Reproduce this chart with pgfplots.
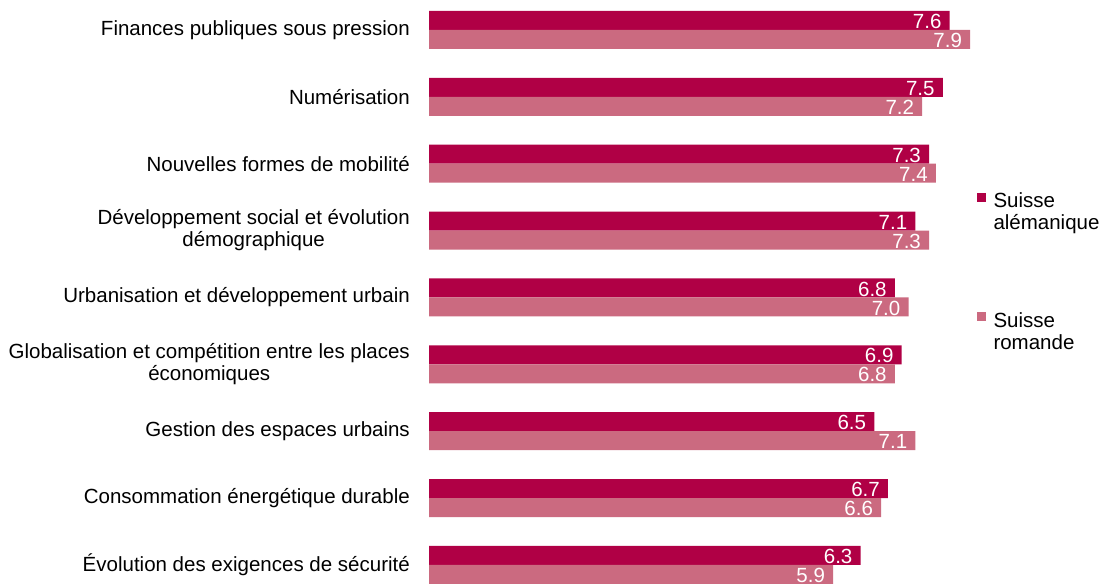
\documentclass[border=0pt]{standalone}
\usepackage{pgfplots}
\pgfplotsset{compat=1.18}
\usepackage{fontspec}
\setmainfont{Liberation Sans}
\definecolor{darkc}{HTML}{B00045}
\definecolor{lightc}{HTML}{CB6A80}
\newcommand{\lbl}{\fontsize{20.5bp}{22bp}\selectfont}
\begin{document}
\begin{tikzpicture}
\path[use as bounding box] (0,0) rectangle (1102bp,584bp);
\begin{axis}[
  at={(429bp,-14.4bp)}, anchor=south west,
  scale only axis, width=616.5bp, height=601.9bp,
  xmin=0, xmax=9, ymin=-0.5, ymax=8.5,
  clip=false,
  axis line style={draw=none},
  xtick=\empty,
  ytick={0,...,8},
  yticklabels={{Évolution des exigences de sécurité},
    {Consommation énergétique durable},
    {Gestion des espaces urbains},
    {Globalisation et compétition entre les places\\économiques},
    {Urbanisation et développement urbain},
    {Développement social et évolution\\démographique},
    {Nouvelles formes de mobilité},
    {Numérisation},
    {Finances publiques sous pression}},
  major tick length=0pt,
  yticklabel style={font=\lbl, align=center, inner sep=0pt, xshift=-19bp, anchor=east},
  xbar, bar width=19bp,
  /pgf/number format/assume math mode=true,
  /pgf/number format/fixed,
  /pgf/number format/fixed zerofill,
  /pgf/number format/precision=1,
  nodes near coords,
  every node near coord/.append style={anchor=east, text=white, font=\lbl, inner sep=0pt, xshift=-8bp, yshift=-1bp},
  legend image code/.code={\fill[#1] (0bp,-1bp) rectangle (9bp,8bp); \path (15bp,0bp);},
  legend style={draw=none, fill=none, at={(axis cs:7.99,5.607)}, anchor=north west,
    font=\lbl, row sep=99bp, inner sep=0pt, legend cell align=left},
]
\addplot[fill=darkc, draw=none, bar shift=9.5bp] coordinates {
 (6.3,0) (6.7,1) (6.5,2) (6.9,3) (6.8,4) (7.1,5) (7.3,6) (7.5,7) (7.6,8)};
\addlegendentry{\begin{tabular}[t]{@{}l@{}}Suisse\\alémanique\end{tabular}}
\addplot[fill=lightc, draw=none, bar shift=-9.5bp] coordinates {
 (5.9,0) (6.6,1) (7.1,2) (6.8,3) (7.0,4) (7.3,5) (7.4,6) (7.2,7) (7.9,8)};
\addlegendentry{\begin{tabular}[t]{@{}l@{}}Suisse\\romande\end{tabular}}
\end{axis}
\end{tikzpicture}
\end{document}
